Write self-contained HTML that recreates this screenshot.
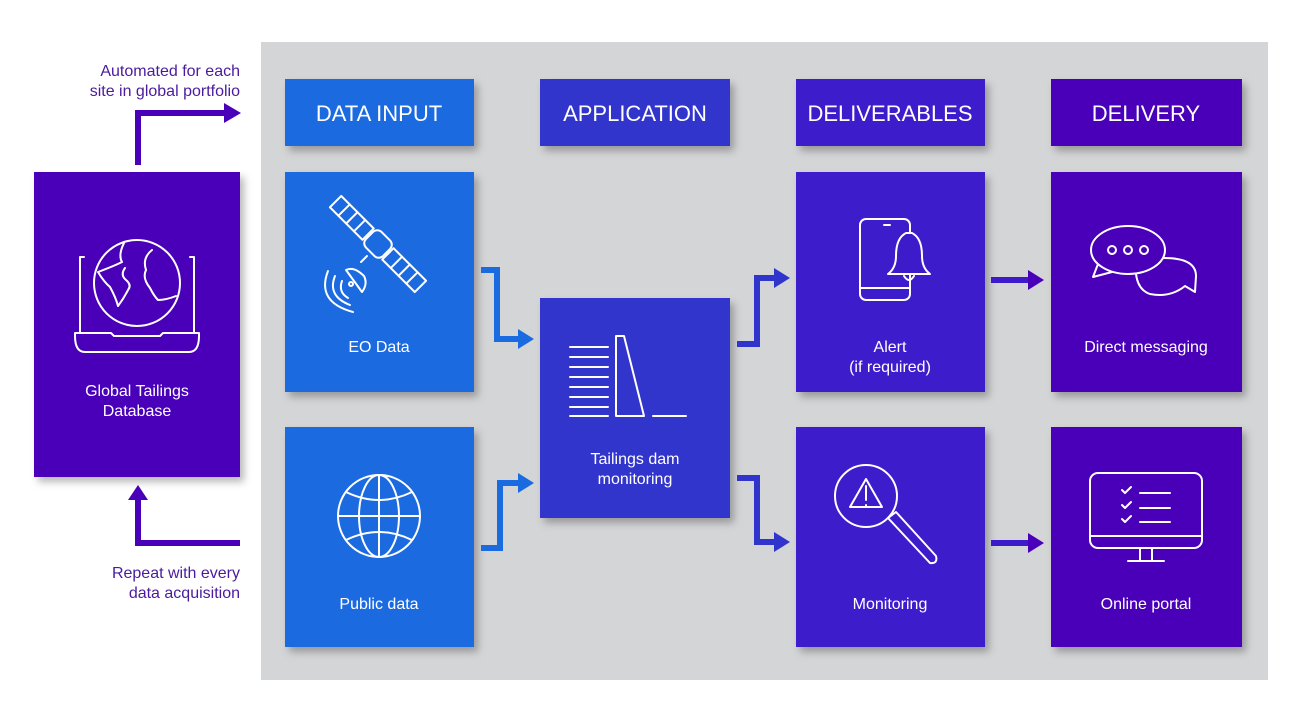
<!DOCTYPE html>
<html><head><meta charset="utf-8"><style>
html,body{margin:0;padding:0;background:#fff;}
svg{display:block;}
text{font-family:"Liberation Sans",sans-serif;}
</style></head><body>
<svg width="1300" height="718" viewBox="0 0 1300 718" xmlns="http://www.w3.org/2000/svg">
<defs>
<filter id="sh" x="-20%" y="-20%" width="150%" height="150%">
<feDropShadow dx="4" dy="5" stdDeviation="4" flood-color="#000" flood-opacity="0.28"/>
</filter>
</defs>
<rect x="261" y="42" width="1007" height="638" fill="#d4d5d7"/>

<g filter="url(#sh)">
<rect x="34" y="172" width="206" height="305" fill="#4a00b8"/>
<rect x="285" y="79" width="189" height="67" fill="#1a6ae0"/>
<rect x="540" y="79" width="190" height="67" fill="#3035cc"/>
<rect x="796" y="79" width="189" height="67" fill="#3d1bcb"/>
<rect x="1051" y="79" width="191" height="67" fill="#4a00b8"/>
<rect x="285" y="172" width="189" height="220" fill="#1a6ae0"/>
<rect x="285" y="427" width="189" height="220" fill="#1a6ae0"/>
<rect x="540" y="298" width="190" height="220" fill="#3035cc"/>
<rect x="796" y="172" width="189" height="220" fill="#3d1bcb"/>
<rect x="796" y="427" width="189" height="220" fill="#3d1bcb"/>
<rect x="1051" y="172" width="191" height="220" fill="#4a00b8"/>
<rect x="1051" y="427" width="191" height="220" fill="#4a00b8"/>
</g>

<g fill="none" stroke-width="6">
<path d="M138 165 V113 H226" stroke="#4a00b8"/>
<path d="M240 543 H138 V498" stroke="#4a00b8"/>
<path d="M481 270 H497 V339 H520" stroke="#1a6ae0"/>
<path d="M481 548 H500 V483 H520" stroke="#1a6ae0"/>
<path d="M737 344 H757 V278 H776" stroke="#3035cc"/>
<path d="M737 478 H757 V542 H776" stroke="#3035cc"/>
<path d="M991 280 H1030" stroke="#3d1bcb"/>
<path d="M991 543 H1030" stroke="#3d1bcb"/>
</g>
<g>
<polygon points="224,103 241,113 224,123" fill="#4a00b8"/>
<polygon points="128,500 138,485 148,500" fill="#4a00b8"/>
<polygon points="518,329 534,339 518,349" fill="#1a6ae0"/>
<polygon points="518,473 534,483 518,493" fill="#1a6ae0"/>
<polygon points="774,268 790,278 774,288" fill="#3035cc"/>
<polygon points="774,532 790,542 774,552" fill="#3035cc"/>
<polygon points="1028,270 1044,280 1028,290" fill="#4a00b8"/>
<polygon points="1028,533 1044,543 1028,553" fill="#4a00b8"/>
</g>

<g fill="#4b1a9e" font-size="16" text-anchor="end">
<text x="240" y="76">Automated for each</text>
<text x="240" y="96">site in global portfolio</text>
<text x="240" y="578">Repeat with every</text>
<text x="240" y="598">data acquisition</text>
</g>

<g fill="#fff" font-size="22" text-anchor="middle">
<text x="379" y="121">DATA INPUT</text>
<text x="635" y="121">APPLICATION</text>
<text x="890" y="121">DELIVERABLES</text>
<text x="1146" y="121">DELIVERY</text>
</g>

<g fill="#fff" font-size="16" text-anchor="middle">
<text x="137" y="396">Global Tailings</text>
<text x="137" y="416">Database</text>
<text x="379" y="352">EO Data</text>
<text x="379" y="609">Public data</text>
<text x="635" y="464">Tailings dam</text>
<text x="635" y="484">monitoring</text>
<text x="890" y="352">Alert</text>
<text x="890" y="372">(if required)</text>
<text x="890" y="609">Monitoring</text>
<text x="1146" y="352">Direct messaging</text>
<text x="1146" y="609">Online portal</text>
</g>

<g fill="none" stroke="#fff" stroke-width="2" stroke-linejoin="round" stroke-linecap="round">
<path d="M84 257 H80 V332 M190 257 H194 V332"/>
<path d="M75 336 Q75 352 85 352 H189 Q199 352 199 336 V333 H163 L160 336 H114 L111 333 H75 Z"/>
<circle cx="137" cy="283" r="43"/>
<path d="M124 243 Q118 255 122 262 Q114 266 98 272 Q104 282 110 287 Q116 298 118 306 Q124 298 128 290 Q132 285 126 280 Q120 275 125 268"/>
<path d="M152 250 Q142 258 146 270 Q142 278 150 288 Q154 296 158 300 Q166 300 176 296"/>
<!-- satellite -->
<g transform="translate(378,244) rotate(-45)">
<rect x="-11" y="-12" width="22" height="24" rx="6"/>
<rect x="-8" y="-60" width="16" height="46"/>
<path d="M-8 -48 H8 M-8 -37 H8 M-8 -26 H8"/>
<rect x="-8" y="14" width="16" height="46"/>
<path d="M-8 26 H8 M-8 37 H8 M-8 48 H8"/>
</g>
<path d="M367 256 L361 262"/>
<path d="M346 270 Q354 266 364 276 Q368 284 362 292 Z"/>
<circle cx="351" cy="284" r="2"/>
<path d="M342 281 Q338 292 348 298 M335 276 Q327 296 350 305 M328 271 Q316 302 353 312"/>
<circle cx="379" cy="516" r="41"/>
<ellipse cx="379" cy="516" rx="20" ry="41"/>
<path d="M379 475 V557 M338 516 H420 M346 492 Q379 508 412 492 M346 540 Q379 524 412 540"/>
<path d="M570 347 H608 M570 357 H608 M570 367 H608 M570 377 H608 M570 387 H608 M570 397 H608 M570 407 H608 M570 416 H608"/>
<path d="M616 416 V336 H624 L644 416 Z"/>
<path d="M653 416 H686"/>
<rect x="860" y="219" width="50" height="81" rx="6"/>
<path d="M860 288 H910 M884 225 H890"/>
<path d="M906 233 Q896 238 896 256 Q896 268 888 274 H930 Q922 268 922 256 Q922 238 912 233 Z" fill="#3d1bcb"/>
<path d="M904 276 Q909 284 914 276"/>
<circle cx="866" cy="496" r="31"/>
<path d="M866 479 L850 507 H882 Z M866 486 V500 M866 505 V506"/>
<path d="M888 518 L896 512 L936 556 Q938 564 930 563 Z"/>
<ellipse cx="1128" cy="250" rx="37" ry="24"/>
<path d="M1098 264 L1093 277 L1112 272"/>
<path d="M1164 258 Q1196 258 1196 276 L1195 292 L1185 286 Q1170 298 1150 294 Q1138 290 1136 274"/>
<circle cx="1112" cy="250" r="4"/><circle cx="1128" cy="250" r="4"/><circle cx="1144" cy="250" r="4"/>
<rect x="1090" y="473" width="112" height="75" rx="8"/>
<path d="M1090 536 H1202 M1140 548 V561 M1152 548 V561 M1128 561 H1164"/>
<path d="M1122 490 L1125 493 L1131 487 M1122 505 L1125 508 L1131 502 M1122 519 L1125 522 L1131 516"/>
<path d="M1140 493 H1170 M1140 508 H1170 M1140 522 H1170"/>
</g>
</svg>
</body></html>
